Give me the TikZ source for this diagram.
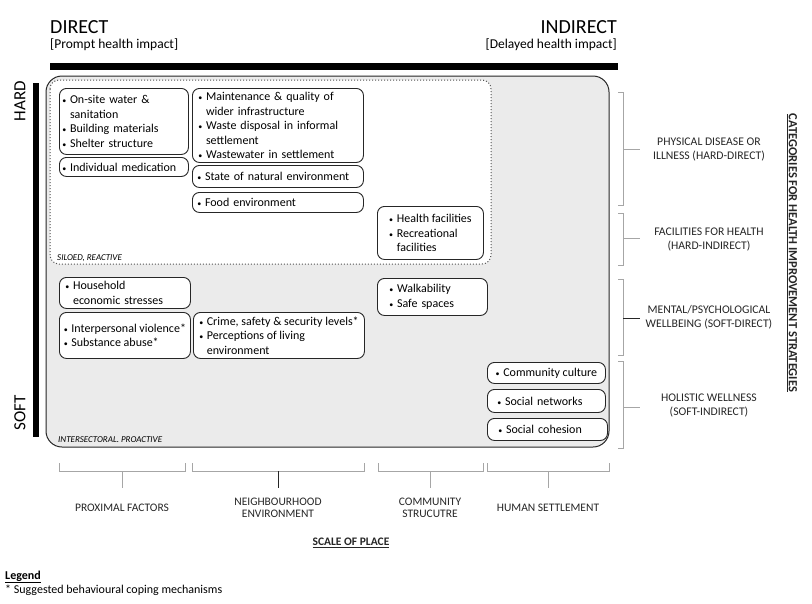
\documentclass[tikz,border=0pt]{standalone}
\usepackage{fontspec}
\setmainfont{Carlito}
\usepackage{tikz}
\usepackage{xcolor}

\definecolor{panelgray}{HTML}{EBEBEB}
\definecolor{bracketgray}{HTML}{A6A6A6}
\definecolor{inkgray}{HTML}{262626}

\newcommand{\bpt}{{\fontsize{8}{8}\selectfont\textbullet}\hspace{0.3em}}
\newcommand{\bgap}{\phantom{\bpt}}

\tikzset{
  factor/.style={draw=inkgray, line width=0.9pt, rounded corners=7pt, fill=white,
    align=left, anchor=north west, inner xsep=3pt, inner ysep=1pt,
    font=\fontsize{12}{14.5}\selectfont},
  category/.style={align=center, text=inkgray, font=\fontsize{11.7}{14}\selectfont},
  scalelabel/.style={align=center, text=inkgray, font=\fontsize{11.5}{12.5}\selectfont},
  bracket/.style={bracketgray, line width=0.7pt},
  tag/.style={anchor=west, inner sep=0pt, font=\fontsize{9}{10}\selectfont\itshape}
}

\begin{document}
\begin{tikzpicture}[x=1pt, y=-1pt]
    \useasboundingbox (0,0) rectangle (812,603);

    %% direct / indirect
    \node[anchor=base west, inner sep=0pt, font=\fontsize{20}{24}\selectfont] (direct) at (50,33) {DIRECT};
    \node[anchor=base west, inner sep=0pt, font=\fontsize{13.5}{15}\selectfont] (prompt) at (50,48) {[Prompt health impact]};
    \node[anchor=base east, inner sep=0pt, font=\fontsize{20}{24}\selectfont] (indirect) at (617,33) {INDIRECT};
    \node[anchor=base east, inner sep=0pt, font=\fontsize{13.5}{15}\selectfont] (delayed) at (617,48) {[Delayed health impact]};
    \fill[black] (50,63) rectangle (618,70);

    %% hard / soft
    \fill[black] (33,83) rectangle (39,437);
    \node[rotate=90, font=\fontsize{17}{20}\selectfont] (hard) at (20,101) {HARD};
    \node[rotate=90, font=\fontsize{17}{20}\selectfont] (soft) at (20,413) {SOFT};

    %% panels
    \draw[inkgray, line width=1pt, fill=panelgray, rounded corners=16pt] (46,76) rectangle (609,447);
    \draw[inkgray!80, dotted, line width=1pt, fill=white, rounded corners=9pt] (50,80) rectangle (491,264);
    \node[tag] (siloed) at (57,258) {SILOED, REACTIVE};
    \node[tag] (intersectoral) at (58,440) {INTERSECTORAL. PROACTIVE};

    %% proximal factors
    \node[factor, minimum width=129pt, minimum height=66pt, text width=123pt] (onsite) at (59,88)
        {\bpt On-site water \&\\\bgap sanitation\\\bpt Building materials\\\bpt Shelter structure};
    \node[factor, minimum width=129pt, minimum height=19pt, text width=123pt] (medication) at (59,157)
        {\bpt Individual medication};
    \node[factor, minimum width=131pt, minimum height=31pt, text width=119pt, inner xsep=6pt] (household) at (59,277)
        {\bpt Household\\\bgap economic stresses};
    \node[factor, minimum width=131pt, minimum height=46pt, inner xsep=1pt] (violence) at (59,312)
        {\bpt Interpersonal violence*\\\bpt Substance abuse*};

    %% neighbourhood environment
    \node[factor, minimum width=171pt, minimum height=74pt, text width=159pt, inner xsep=6pt] (maintenance) at (192,88)
        {\bpt Maintenance \& quality of\\\bgap wider infrastructure\\\bpt Waste disposal in informal\\\bgap settlement\\\bpt Wastewater in settlement};
    \node[factor, minimum width=171pt, minimum height=22pt, text width=161pt, inner xsep=5pt] (naturalenv) at (192,165)
        {\bpt State of natural environment};
    \node[factor, minimum width=171pt, minimum height=20pt, text width=161pt, inner xsep=5pt] (foodenv) at (192,192)
        {\bpt Food environment};
    \node[factor, minimum width=171pt, minimum height=46pt, inner xsep=1pt] (crime) at (193,312)
        {\bpt Crime, safety \& security levels*\\\bpt Perceptions of living\\\bgap environment};

    %% community structure
    \node[factor, minimum width=106pt, minimum height=53pt] (healthfac) at (377,206)
        {\bpt Health facilities\\\bpt Recreational\\\bgap facilities};
    \node[factor, minimum width=110pt, minimum height=37pt, text width=86pt, inner xsep=12pt] (walkability) at (377,278)
        {\bpt Walkability\\\bpt Safe spaces};

    %% human settlement
    \node[factor, minimum width=118pt, minimum height=21pt] (culture) at (487,362)
        {\bpt Community culture};
    \node[factor, minimum width=118pt, minimum height=23pt, text width=98pt, inner xsep=10pt] (networks) at (487,389)
        {\bpt Social networks};
    \node[factor, minimum width=118pt, minimum height=22pt, text width=98pt, inner xsep=11pt] (cohesion) at (487,418)
        {\bpt Social cohesion};

    %% categories
    \draw[bracket] (618,92) -- (623,92) -- (623,205) -- (618,205);
    \draw[bracket] (623,149) -- (640,149);
    \draw[bracket] (618,213) -- (623,213) -- (623,265) -- (618,265);
    \draw[bracket] (623,238) -- (640,238);
    \draw[bracket] (618,279) -- (623,279) -- (623,355) -- (618,355);
    \draw[bracket, inkgray] (623,318) -- (640,318);
    \draw[bracket] (618,361) -- (623,361) -- (623,448) -- (618,448);
    \draw[bracket] (623,407) -- (640,407);

    \node[category] (physical) at (709,150) {PHYSICAL DISEASE OR\\ILLNESS (HARD-DIRECT)};
    \node[category] (facilities) at (709,240) {FACILITIES FOR HEALTH\\(HARD-INDIRECT)};
    \node[category] (mental) at (709,317) {MENTAL/PSYCHOLOGICAL\\WELLBEING (SOFT-DIRECT)};
    \node[category] (holistic) at (709,406) {HOLISTIC WELLNESS\\(SOFT-INDIRECT)};
    \node[rotate=-90, font=\fontsize{12.5}{14}\selectfont\bfseries, text=inkgray] (strategies) at (792,253)
        {\underline{CATEGORIES FOR HEALTH IMPROVEMENT STRATEGIES}};

    %% scale of place
    \draw[bracket] (59,463) -- (59,471) -- (185,471) -- (185,463);
    \draw[bracket] (122,471) -- (122,488);
    \draw[bracket] (192,463) -- (192,471) -- (364,471) -- (364,463);
    \draw[bracket, inkgray] (278,471) -- (278,488);
    \draw[bracket] (378,463) -- (378,471) -- (483,471) -- (483,463);
    \draw[bracket] (430,471) -- (430,488);
    \draw[bracket] (487,463) -- (487,471) -- (609,471) -- (609,463);
    \draw[bracket] (548,471) -- (548,488);

    \node[scalelabel] (proximal) at (122,508) {PROXIMAL FACTORS};
    \node[scalelabel] (neighbourhood) at (278,508) {NEIGHBOURHOOD\\ENVIRONMENT};
    \node[scalelabel] (community) at (430,508) {COMMUNITY\\STRUCUTRE};
    \node[scalelabel] (settlement) at (548,508) {HUMAN SETTLEMENT};
    \node[scalelabel, font=\fontsize{11.5}{12.5}\selectfont\bfseries] (scale) at (351,543) {\underline{SCALE OF PLACE}};

    %% legend
    \node[anchor=base west, inner sep=0pt, font=\fontsize{12}{14}\selectfont\bfseries] (legend) at (5,579) {\underline{Legend}};
    \node[anchor=base west, inner sep=0pt, font=\fontsize{12}{14}\selectfont] (legendtext) at (5,593) {* Suggested behavioural coping mechanisms};

\end{tikzpicture}
\end{document}
